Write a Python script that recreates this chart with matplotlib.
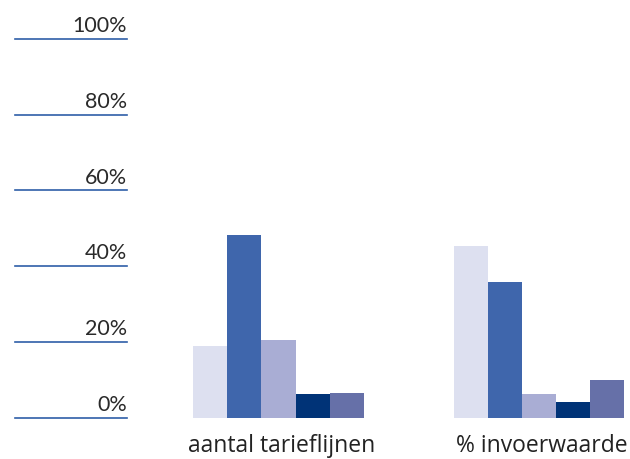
import numpy as np
import matplotlib
matplotlib.use("Agg")
import matplotlib.pyplot as plt

plt.rcParams['font.family'] = ['Lato', 'DejaVu Sans']

categories = ["aantal tarieflijnen", "% invoerwaarde"]
series_colors = ["#dde0f0", "#3f66ac", "#a9add4", "#003377", "#6670a8"]
# one list per series, values for both categories (in %)
s1 = [18.9, 45.3]
s2 = [48.2, 35.8]
s3 = [20.5, 6.2]
s4 = [6.2, 4.1]
s5 = [6.5, 10.0]
series = [s1, s2, s3, s4, s5]
ticks = [0, 20, 40, 60, 80, 100]
tick_labels = ["0%", "20%", "40%", "60%", "80%", "100%"]

fig = plt.figure(figsize=(6.3, 4.59), dpi=100)
ax = fig.add_axes([0, 0.09, 1, 0.825])
ax.set_xlim(-1.069, 1.349)
ax.set_ylim(0, 100)
ax.axis('off')

w = 0.131
x = np.arange(len(categories))
for i, (vals, c) in enumerate(zip(series, series_colors)):
    ax.bar(x + (i - 2) * w, vals, width=w, color=c, linewidth=0)

# gridline stubs on the left with labels above them
for t, lab in zip(ticks, tick_labels):
    ax.plot([-1.012, -0.582], [t, t], color="#2f5fa8", linewidth=1.2, clip_on=False)
    ax.annotate(lab, (-0.582, t), xytext=(0, 2), textcoords="offset points",
                ha="right", va="bottom", fontsize=15.5, color="#2a2a2a")

for xi, cat in zip(x, categories):
    ax.annotate(cat, (xi + 0.012, 0), xytext=(0, -12), textcoords="offset points",
                ha="center", va="top", fontsize=16.5, color="#222222",
                family=["Open Sans", "DejaVu Sans"])

fig.savefig("out.png", dpi=100)
